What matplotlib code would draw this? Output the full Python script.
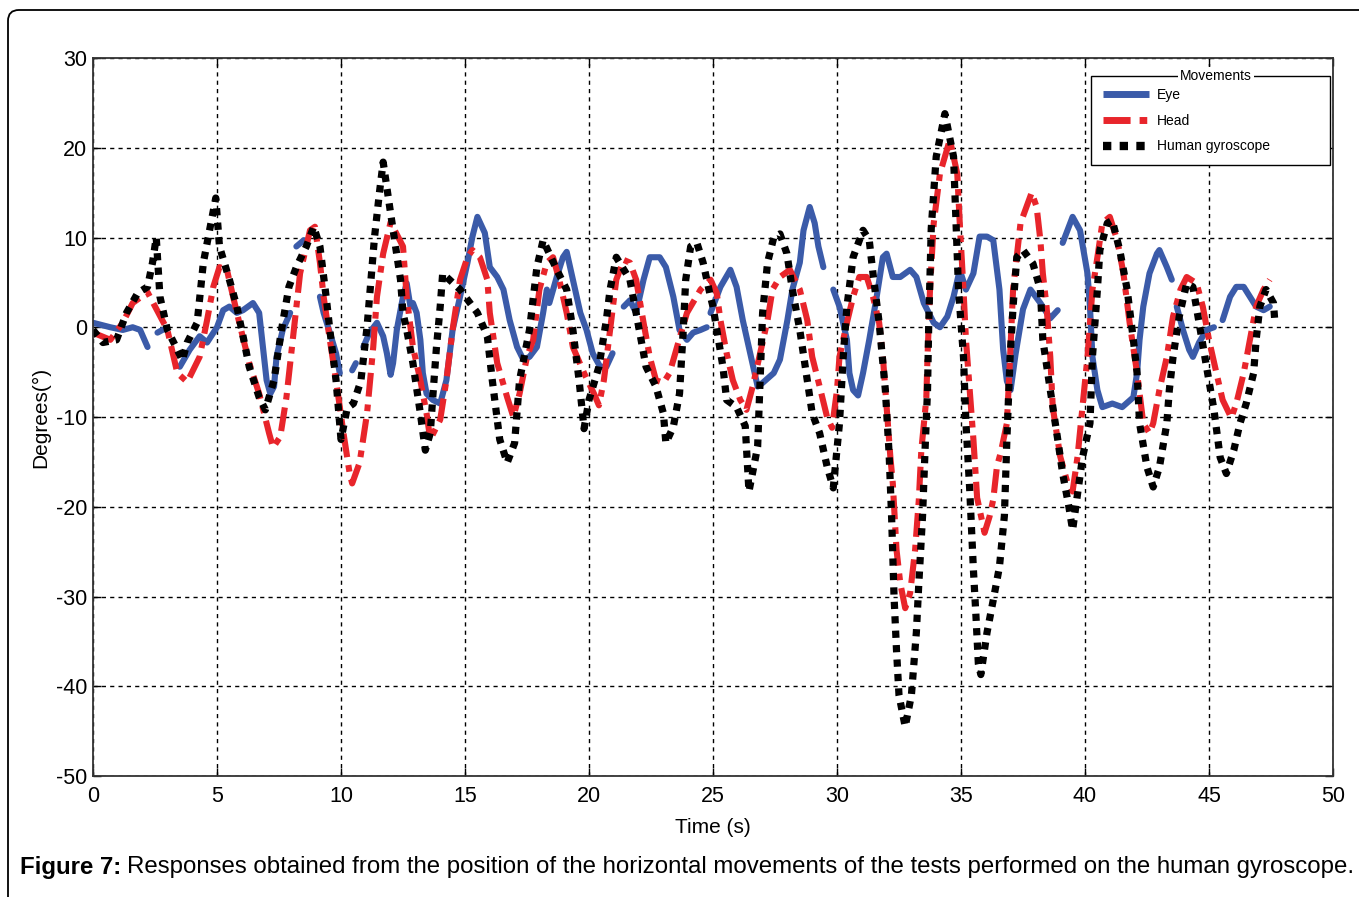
import numpy as np
import matplotlib
matplotlib.use('Agg')
import matplotlib.pyplot as plt
from matplotlib.patches import FancyBboxPatch
from matplotlib.lines import Line2D

plt.rcParams['font.family'] = ['Liberation Sans', 'DejaVu Sans']
plt.rcParams['axes.unicode_minus'] = False

nan = np.nan

# Eye (blue), NaN = gaps in the trace
eye_t = [0.0, 0.7, 1.2, 1.6, 1.9, 2.2, nan,
         2.6, 2.8, nan,
         3.5, 3.9, 4.3, 4.6, 5.0, 5.25, 5.5, 5.8, 6.05, 6.45, 6.7, 6.85, 7.0, 7.15, 7.3, 7.4, 7.65, 7.95, nan,
         8.2, 8.5, nan,
         9.15, 9.3, 9.55, 9.8, 9.95, nan,
         10.45, 10.6, nan,
         10.9, 11.15, 11.45, 11.7, 11.85, 12.0, 12.1, 12.25, 12.5, 12.65, 12.8, 12.9, 13.05, 13.2, 13.3, 13.45,
         13.7, 14.0, 14.25, 14.5, 14.8, 15.1, 15.3, 15.5, 15.8, 16.0, 16.3, 16.55, 16.8, 17.1, 17.35, 17.6, 17.9,
         18.15, 18.3, 18.4, 18.7, 18.95, 19.1, 19.35, 19.65, 19.9, 20.15, 20.45, 20.7, 20.95, nan,
         21.4, 21.65, 21.9, 22.2, 22.45, 22.85, 23.1, 23.4, 23.65, 23.95, 24.2, 24.5, 24.75, nan,
         24.9, 25.3, 25.7, 25.95, 26.2, 26.5, 26.8, 27.0, 27.45, 27.7, 28.0, 28.2, 28.5, 28.65, 28.9, 29.1,
         29.25, 29.45, nan,
         29.85, 30.1, 30.4, 30.5, 30.65, 30.85, 31.05, 31.3, 31.6, 31.85, 32.0, 32.25, 32.55, 32.95, 33.2,
         33.5, 33.9, 34.15, 34.45, 34.7, 34.95, 35.2, 35.5, 35.75, 36.05, 36.3, 36.55, 36.7, 36.85, 37.0,
         37.2, 37.5, 37.8, 38.2, 38.6, 38.9, nan,
         39.1, 39.5, 39.8, 40.1, 40.2, 40.3, 40.5, 40.7, 41.1, 41.5, 41.95, 42.1, 42.2, 42.35, 42.6, 42.9,
         43.0, 43.3, 43.5, nan,
         43.7, 43.95, 44.2, 44.35, 44.6, 44.9, 45.2, nan,
         45.55, 45.85, 46.1, 46.4, 46.65, 46.9, 47.2, 47.45]
eye_y = [0.5, 0.0, -0.3, 0.0, -0.3, -2.2, nan,
         -0.6, -0.3, nan,
         -4.4, -2.5, -1.0, -1.7, 0.0, 1.9, 2.3, 1.6, 1.9, 2.7, 1.6, -2.2, -5.9, -7.4, -6.6, -3.3, -0.3, 1.6, nan,
         9.0, 9.7, nan,
         3.4, 1.6, -0.6, -2.9, -5.1, nan,
         -4.8, -4.0, nan,
         -2.2, -0.6, 0.5, -1.0, -2.9, -5.3, -4.0, -0.3, 3.4, 4.9, 2.3, 2.7, 1.6, -1.4, -5.1, -7.4,
         -8.1, -8.5, -5.9, -0.3, 3.4, 7.2, 10.1, 12.3, 10.5, 6.7, 5.6, 4.2, 0.8, -2.2, -3.6, -3.3, -2.2,
         1.6, 4.2, 2.7, 5.6, 7.8, 8.4, 5.3, 1.6, -0.3, -2.9, -4.4, -4.4, -2.9, nan,
         2.3, 3.0, 1.6, 5.3, 7.8, 7.8, 6.7, 3.4, -0.3, -1.4, -0.6, -0.3, 0.0, nan,
         1.6, 4.5, 6.4, 4.5, 0.8, -2.9, -6.6, -6.2, -5.1, -3.6, 0.8, 4.2, 7.2, 10.8, 13.4, 11.6,
         9.0, 6.7, nan,
         4.2, 2.3, -1.4, -5.1, -7.0, -7.6, -5.1, -1.4, 3.4, 7.8, 8.2, 5.6, 5.6, 6.4, 5.6,
         2.7, 0.5, 0.0, 1.2, 3.4, 6.4, 4.2, 6.0, 10.1, 10.1, 9.7, 4.2, -2.5, -6.0, -7.0,
         -3.0, 2.0, 4.2, 2.7, 1.0, 1.9, nan,
         9.4, 12.3, 10.8, 6.0, 2.3, -3.3, -7.0, -8.9, -8.5, -8.9, -7.8, -5.1, -1.4, 2.3, 6.0, 8.2,
         8.6, 6.7, 5.3, nan,
         2.3, -0.3, -2.5, -3.3, -1.7, -0.3, 0.0, nan,
         0.8, 3.4, 4.5, 4.5, 3.4, 2.3, 1.9, 2.3]

# Head (red)
head_t = [0.0, 0.7, 1.2, 1.6, 2.2, 3.0, 3.4, 3.8, 4.3, 4.6, 4.85, 5.1, 5.4, 5.65, 5.9, 6.3, 6.7, 7.1,
          7.26, 7.55, 7.8, 8.1, 8.35, 8.75, 8.95, 9.15, 9.3, 9.55, 9.8, 10.1, 10.35, 10.45, 10.75, 11.05,
          11.3, 11.45, 11.7, 12.0, 12.5, 12.65, 12.9, 13.2, 13.45, 13.6, 14.0, 14.25, 14.5, 14.8, 15.1,
          15.3, 15.6, 15.9, 16.0, 16.3, 16.7, 16.95, 17.2, 17.5, 17.75, 18.0, 18.3, 18.55, 18.8, 19.1,
          19.35, 19.8, 20.2, 20.4, 20.6, 20.85, 21.1, 21.4, 21.65, 21.9, 22.2, 22.45, 22.7, 23.0, 23.25,
          23.55, 23.95, 24.5, 24.9, 25.15, 25.3, 25.55, 25.8, 26.1, 26.35, 26.6, 26.9, 27.2, 27.4, 27.7,
          28.1, 28.5, 28.8, 29.0, 29.3, 29.6, 29.8, 30.0, 30.1, 30.4, 30.65, 30.9, 31.2, 31.45, 31.7,
          31.85, 32.0, 32.15, 32.25, 32.4, 32.55, 32.75, 32.95, 33.15, 33.3, 33.4, 33.6, 33.65, 33.75,
          33.9, 34.15, 34.55, 34.85, 34.95, 35.1, 35.2, 35.35, 35.5, 35.65, 35.95, 36.15, 36.3, 36.45,
          36.6, 36.85, 36.98, 37.1, 37.4, 37.85, 38.05, 38.2, 38.3, 38.45, 38.6, 38.7, 39.0, 39.3, 39.5,
          39.7, 39.9, 40.1, 40.3, 40.5, 40.7, 41.0, 41.3, 41.55, 41.8, 42.1, 42.35, 42.6, 42.75, 43.0,
          43.3, 43.55, 43.85, 44.1, 44.5, 44.75, 45.0, 45.3, 45.55, 45.9, 46.1, 46.4, 46.65, 46.9, 47.2,
          47.45]
head_y = [-0.6, -1.4, 0.5, 2.7, 3.9, -0.3, -5.1, -6.1, -3.3, 0.8, 4.5, 6.7, 6.4, 3.4, 0.5, -4.0, -7.4, -11.8,
          -13.4, -12.2, -7.8, -0.3, 6.0, 10.8, 11.2, 7.2, 3.4, -1.4, -5.9, -11.8, -16.3, -17.4, -15.1, -9.6,
          -2.2, 3.4, 8.2, 11.7, 9.0, 3.4, -2.2, -5.9, -9.6, -12.5, -10.3, -5.9, -0.3, 5.3, 7.8,
          8.6, 7.8, 5.3, 1.6, -4.0, -7.8, -10.0, -7.4, -3.3, -1.4, 4.2, 7.2, 7.8, 5.3, 1.6,
          -2.2, -5.1, -7.4, -8.7, -5.9, -0.3, 5.3, 7.5, 7.2, 5.3, 0.5, -3.3, -5.9, -6.2, -5.1,
          -2.2, 1.6, 4.2, 5.3, 3.8, 0.8, -2.9, -5.9, -8.1, -9.2, -6.6, -2.9, 0.8, 4.2, 5.6,
          6.4, 4.2, 0.8, -3.3, -6.6, -10.0, -11.2, -7.0, -3.3, 0.5, 3.4, 5.6, 5.6, 3.4, 0.5,
          -3.3, -8.9, -14.4, -17.4, -24.8, -28.5, -31.3, -29.6, -24.8, -19.2, -13.7, -8.0, -3.3, 4.2,
          11.6, 17.1, 20.9, 17.1, 11.6, 4.2, -1.4, -7.0, -12.5, -19.0, -22.9, -21.1, -19.2, -15.5,
          -14.0, -10.7, -3.3, 4.2, 11.6, 15.0, 13.4, 9.7, 6.0, 2.3, -3.3, -8.9, -14.4, -17.4, -18.3,
          -14.4, -8.9, -3.3, 4.2, 7.8, 11.6, 12.3, 9.7, 6.0, 0.5, -5.1, -10.7, -11.8, -10.7, -7.0,
          -3.3, 1.2, 4.2, 5.6, 4.9, 2.3, -1.4, -5.1, -8.1, -10.1, -8.5, -5.1, -1.4, 2.3, 4.2,
          5.3]

# Human gyroscope (black)
gyro_t = [0.0, 0.4, 0.95, 1.35, 1.8, 2.2, 2.4, 2.55, 2.7, 3.0, 3.4, 3.6, 3.8, 4.2, 4.45, 4.7, 4.95, 5.1,
          5.5, 5.8, 6.05, 6.3, 6.7, 6.95, 7.3, 7.6, 7.9, 8.2, 8.6, 8.9, 9.15, 9.4, 9.55, 9.8, 10.0, 10.25,
          10.5, 10.8, 11.05, 11.35, 11.55, 11.7, 12.0, 12.4, 12.5, 12.65, 12.9, 13.2, 13.4, 13.6, 13.7,
          13.85, 14.0, 14.1, 14.8, 15.5, 15.9, 16.1, 16.4, 16.7, 17.0, 17.2, 17.6, 17.9, 18.15, 18.7, 19.1,
          19.35, 19.6, 19.8, 20.0, 20.4, 20.7, 20.85, 21.1, 21.65, 21.9, 22.3, 22.7, 23.0, 23.1, 23.4,
          23.65, 23.8, 23.9, 24.1, 24.35, 24.6, 24.9, 25.0, 25.4, 25.55, 25.95, 26.3, 26.45, 26.8, 26.9,
          27.0, 27.2, 27.45, 27.7, 27.98, 28.2, 28.5, 28.8, 29.0, 29.3, 29.6, 29.85, 30.1, 30.25, 30.4,
          30.65, 31.05, 31.3, 31.45, 31.7, 31.95, 32.1, 32.2, 32.3, 32.4, 32.5, 32.75, 33.0, 33.2, 33.3,
          33.45, 33.55, 33.65, 33.7, 33.8, 33.9, 34.0, 34.35, 34.7, 34.8, 34.9, 35.1, 35.2, 35.35, 35.5,
          35.6, 35.7, 35.8, 36.05, 36.3, 36.55, 36.75, 36.85, 36.98, 37.1, 37.25, 37.5, 37.9, 38.2, 38.3,
          38.6, 38.9, 39.1, 39.35, 39.5, 39.9, 40.2, 40.3, 40.5, 40.6, 40.9, 41.1, 41.4, 41.7, 41.95,
          42.1, 42.2, 42.5, 42.75, 43.0, 43.3, 43.4, 43.55, 43.8, 44.1, 44.35, 44.6, 44.9, 45.2, 45.45,
          45.7, 46.0, 46.25, 46.5, 46.8, 46.9, 47.05, 47.3, 47.6, 47.65]
gyro_y = [-0.3, -1.7, -1.4, 1.6, 3.8, 4.5, 7.2, 10.0, 3.4, -0.3, -2.5, -3.7, -1.7, 0.5, 7.2, 10.8, 14.4, 9.0,
          5.3, 2.3, -1.0, -4.4, -7.8, -9.2, -5.9, -0.3, 4.5, 6.7, 9.0, 11.2, 9.0, 3.4, -0.3, -5.9, -12.5, -9.0,
          -8.5, -6.0, 0.0, 10.0, 15.0, 18.4, 12.7, 5.3, 1.6, -0.3, -4.0, -9.6, -13.7, -11.8, -7.8,
          -2.2, 2.3, 6.0, 4.2, 1.6, -1.0, -5.9, -12.5, -15.1, -12.9, -5.9, -0.3, 6.7, 9.7, 6.4, 4.2,
          -0.3, -5.9, -11.3, -8.1, -4.4, 0.8, 4.2, 7.8, 5.3, 1.6, -4.4, -6.6, -9.6, -12.9, -11.1,
          -7.4, -0.3, 5.3, 9.0, 9.4, 7.2, 3.4, 2.3, -4.4, -8.1, -8.9, -11.0, -18.3, -13.3, -5.9,
          1.6, 7.2, 10.0, 10.4, 8.2, 4.2, -0.3, -5.9, -9.6, -11.8, -15.5, -17.9, -10.7, -3.3, 2.3,
          7.8, 10.8, 9.7, 6.0, 0.5, -7.0, -14.0, -21.0, -30.0, -36.0, -41.0, -44.5, -41.0, -34.0, -28.5,
          -21.0, -13.7, -7.0, 0.5, 11.0, 15.0, 19.0, 23.8, 19.0, 11.6, 4.2, -3.3, -10.7, -18.0, -27.0,
          -32.0, -37.5, -38.7, -34.0, -30.4, -26.7, -21.0, -12.5, -3.3, 2.3, 7.8, 8.6, 7.1, 4.2, -1.4,
          -7.0, -12.5, -16.3, -20.0, -22.6, -14.5, -10.7, -3.3, 4.2, 8.6, 11.6, 11.9, 8.6, 4.2, -1.4,
          -5.1, -10.7, -15.6, -17.8, -15.6, -10.7, -7.0, -3.3, 1.2, 4.9, 4.5, 0.5, -4.4, -9.2, -14.5,
          -16.3, -13.7, -10.7, -8.5, -5.1, -1.4, 2.3, 4.2, 2.7, 0.8]

x_ticks = [0, 5, 10, 15, 20, 25, 30, 35, 40, 45, 50]
y_ticks = [-50, -40, -30, -20, -10, 0, 10, 20, 30]

W, H = 1359, 897
fig = plt.figure(figsize=(W / 100, H / 100), dpi=100)
ax = fig.add_axes([93 / W, 1 - 776 / H, (1333 - 93) / W, (776 - 58) / H])

c_eye, c_head, c_gyro = '#3b5ba9', '#e8252b', '#000000'
ax.plot(eye_t, eye_y, color=c_eye, lw=4.4, solid_capstyle='round', solid_joinstyle='round', label='Eye')
ax.plot(head_t, head_y, color=c_head, lw=4.4, ls=(0, (3.9, 1.3, 1.1, 1.3)), dash_capstyle='butt', label='Head')
ax.plot(gyro_t, gyro_y, color=c_gyro, lw=5.2, ls=(0, (1, 1)), dash_capstyle='butt', label='Human gyroscope')

ax.set_xlim(0, 50)
ax.set_ylim(-50, 30)
ax.set_xticks(x_ticks)
ax.set_yticks(y_ticks)
ax.grid(True, color='black', ls=(0, (3, 3)), lw=1.0)
ax.tick_params(direction='in', length=6, width=1, top=True, right=True, labelsize=15.5, pad=7)
ax.tick_params(axis='y', pad=4)
for s in ax.spines.values():
    s.set_color('#333333')
    s.set_linewidth(1.3)

ax.set_xlabel('Time (s)', fontsize=15, labelpad=8)
ax.set_ylabel('Degrees(°)', fontsize=15, labelpad=4)

# legend box
handles = [Line2D([], [], color=c_eye, lw=5, solid_capstyle='butt'),
           Line2D([], [], color=c_head, lw=5, ls=(0, (3.9, 1.3, 1.1, 1.3)), dash_capstyle='butt'),
           Line2D([], [], color=c_gyro, lw=6, ls=(0, (1, 1)), dash_capstyle='butt')]
leg = ax.legend(handles, ['Eye', 'Head', 'Human gyroscope'], loc='upper left',
                bbox_to_anchor=((1091 - 93) / 1240, (776 - 76) / 718 - 0.01, (1330 - 1091) / 1240, 0.01),
                mode='expand', fontsize=10, handlelength=3.3, handletextpad=0.6,
                labelspacing=0.85, borderpad=0.85, borderaxespad=0, fancybox=False,
                edgecolor='black', framealpha=1)
leg.get_frame().set_linewidth(1.0)
fig.text(1216 / W, 1 - 76 / H, 'Movements', fontsize=10, ha='center', va='center',
         bbox=dict(facecolor='white', edgecolor='none', pad=1.5), zorder=10)

# outer border with rounded corner
border = FancyBboxPatch((8 / W, -0.1), 1.2, 1.1 - 10 / H,
                        boxstyle='round,pad=0,rounding_size=0.008', mutation_aspect=W / H,
                        transform=fig.transFigure, facecolor='none', edgecolor='black', lw=1.3)
fig.patches.append(border)

# caption
cap_y = 1 - 867 / H
t1 = fig.text(20 / W, cap_y, 'Figure 7:', fontsize=17.3, fontweight='bold', va='center')
fig.canvas.draw()
bb = t1.get_window_extent()
fig.text((bb.x1 + 6) / W, cap_y,
         'Responses obtained from the position of the horizontal movements of the tests performed on the human gyroscope.',
         fontsize=17.3, va='center')

fig.savefig('out.png', dpi=100, facecolor='white')
